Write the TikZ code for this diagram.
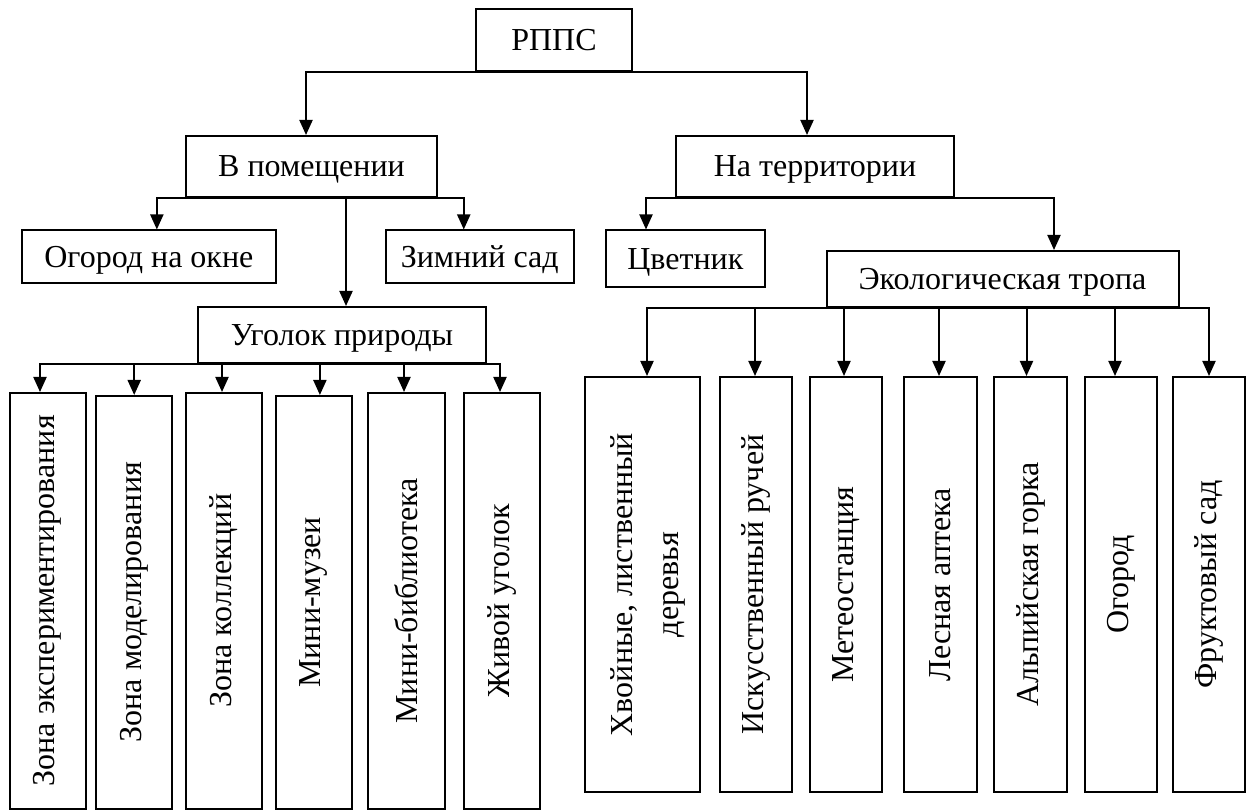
\documentclass[tikz,border=0pt]{standalone}
\usepackage{fontspec}
\setmainfont{Liberation Serif}
\usetikzlibrary{arrows.meta,calc}
\begin{document}
\begin{tikzpicture}[x=1pt,y=-1pt,
  txt/.style={font=\fontsize{32}{46}\selectfont},
  box/.style={draw,line width=2pt,inner sep=0pt,text height=21pt,text depth=0pt,txt},
  vbox/.style={draw,line width=2pt,inner sep=0pt},
  vtext/.style={rotate=90,align=center,inner sep=0pt,txt},
  arr/.style={line width=2pt,-{Triangle[width=13pt,length=15pt]}}]
\useasboundingbox[fill=white] (0,0) rectangle (1251,810);

% top levels
\node[box,minimum width=156pt,minimum height=61.5pt] (root) at (554,40.25) {РППС};
\node[box,minimum width=251pt,minimum height=61pt] (b1) at (311.5,166.5) {В помещении};
\node[box,minimum width=278pt,minimum height=61pt] (b2) at (815,166.5) {На территории};
\node[box,minimum width=254.3pt,minimum height=53pt] (o1) at (148.85,257) {Огород на окне};
\node[box,minimum width=188.5pt,minimum height=53pt] (o2) at (479.75,257) {Зимний сад};
\node[box,minimum width=159.3pt,minimum height=57pt] (c1) at (685.35,259) {Цветник};
\node[box,minimum width=288pt,minimum height=56pt] (u) at (342,335) {Уголок природы};
\node[box,minimum width=352pt,minimum height=56pt] (c2) at (1002.5,279) {Экологическая тропа};

% left vertical boxes
\node[vbox,minimum width=76.4pt,minimum height=415.5pt] (l1) at (47.8,600.75) {};
\node[vbox,minimum width=75.6pt,minimum height=412.5pt] (l2) at (134.2,602.25) {};
\node[vbox,minimum width=76.1pt,minimum height=415.5pt] (l3) at (223.75,600.75) {};
\node[vbox,minimum width=75.8pt,minimum height=412.5pt] (l4) at (313.9,602.25) {};
\node[vbox,minimum width=76.6pt,minimum height=415.5pt] (l5) at (406.3,600.75) {};
\node[vbox,minimum width=76pt,minimum height=415.5pt] (l6) at (502,600.75) {};

% right vertical boxes
\node[vbox,minimum width=115pt,minimum height=415pt] (r1) at (642.5,584.5) {};
\node[vbox,minimum width=72pt,minimum height=415pt] (r2) at (756,584.5) {};
\node[vbox,minimum width=72pt,minimum height=415pt] (r3) at (846,584.5) {};
\node[vbox,minimum width=72.5pt,minimum height=415pt] (r4) at (940.25,584.5) {};
\node[vbox,minimum width=73pt,minimum height=415pt] (r5) at (1030.5,584.5) {};
\node[vbox,minimum width=72pt,minimum height=415pt] (r6) at (1121,584.5) {};
\node[vbox,minimum width=72pt,minimum height=415pt] (r7) at (1209,584.5) {};

% vertical texts
\node[vtext] (tl1) at (l1.center) {Зона экспериментирования};
\node[vtext] (tl2) at (l2.center) {Зона моделирования};
\node[vtext] (tl3) at (l3.center) {Зона коллекций};
\node[vtext] (tl4) at (l4.center) {Мини-музеи};
\node[vtext] (tl5) at (l5.center) {Мини-библиотека};
\node[vtext] (tl6) at (l6.center) {Живой уголок};
\node[vtext] (tr1) at ([xshift=5pt]r1.center) {Хвойные, лиственный\\деревья};
\node[vtext] (tr2) at (r2.center) {Искусственный ручей};
\node[vtext] (tr3) at (r3.center) {Метеостанция};
\node[vtext] (tr4) at (r4.center) {Лесная аптека};
\node[vtext] (tr5) at (r5.center) {Альпийская горка};
\node[vtext] (tr6) at (r6.center) {Огород};
\node[vtext] (tr7) at (r7.center) {Фруктовый сад};

% connectors
\draw[arr] (root.south) -| ([xshift=-5.5pt]b1.north);
\draw[arr] (root.south) -| ([xshift=-8pt]b2.north);

\draw[arr] (b1.south) -| ([xshift=8pt]o1.north);
\draw[arr] (b1.south) -| ([xshift=-16pt]o2.north);
\draw[arr] ([xshift=4pt]u.north |- b1.south) -- ([xshift=4pt]u.north);

\draw[arr] (b2.south) -| ([xshift=-39.35pt]c1.north);
\draw[arr] (b2.south) -| ([xshift=51.5pt]c2.north);

\draw[arr] (u.south) -| ([xshift=-7.8pt]l1.north);
\draw[arr] (u.south) -| (l2.north);
\draw[arr] (u.south) -| ([xshift=-1.75pt]l3.north);
\draw[arr] (u.south) -| ([xshift=6pt]l4.north);
\draw[arr] (u.south) -| ([xshift=-2.3pt]l5.north);
\draw[arr] (u.south) -| ([xshift=-2pt]l6.north);

\draw[arr] (c2.south) -| ([xshift=4.5pt]r1.north);
\draw[arr] (c2.south) -| ([xshift=-1pt]r2.north);
\draw[arr] (c2.south) -| ([xshift=-2pt]r3.north);
\draw[arr] (c2.south) -| ([xshift=-1.25pt]r4.north);
\draw[arr] (c2.south) -| ([xshift=-4pt]r5.north);
\draw[arr] (c2.south) -| ([xshift=-6pt]r6.north);
\draw[arr] (c2.south) -| (r7.north);
\end{tikzpicture}
\end{document}
